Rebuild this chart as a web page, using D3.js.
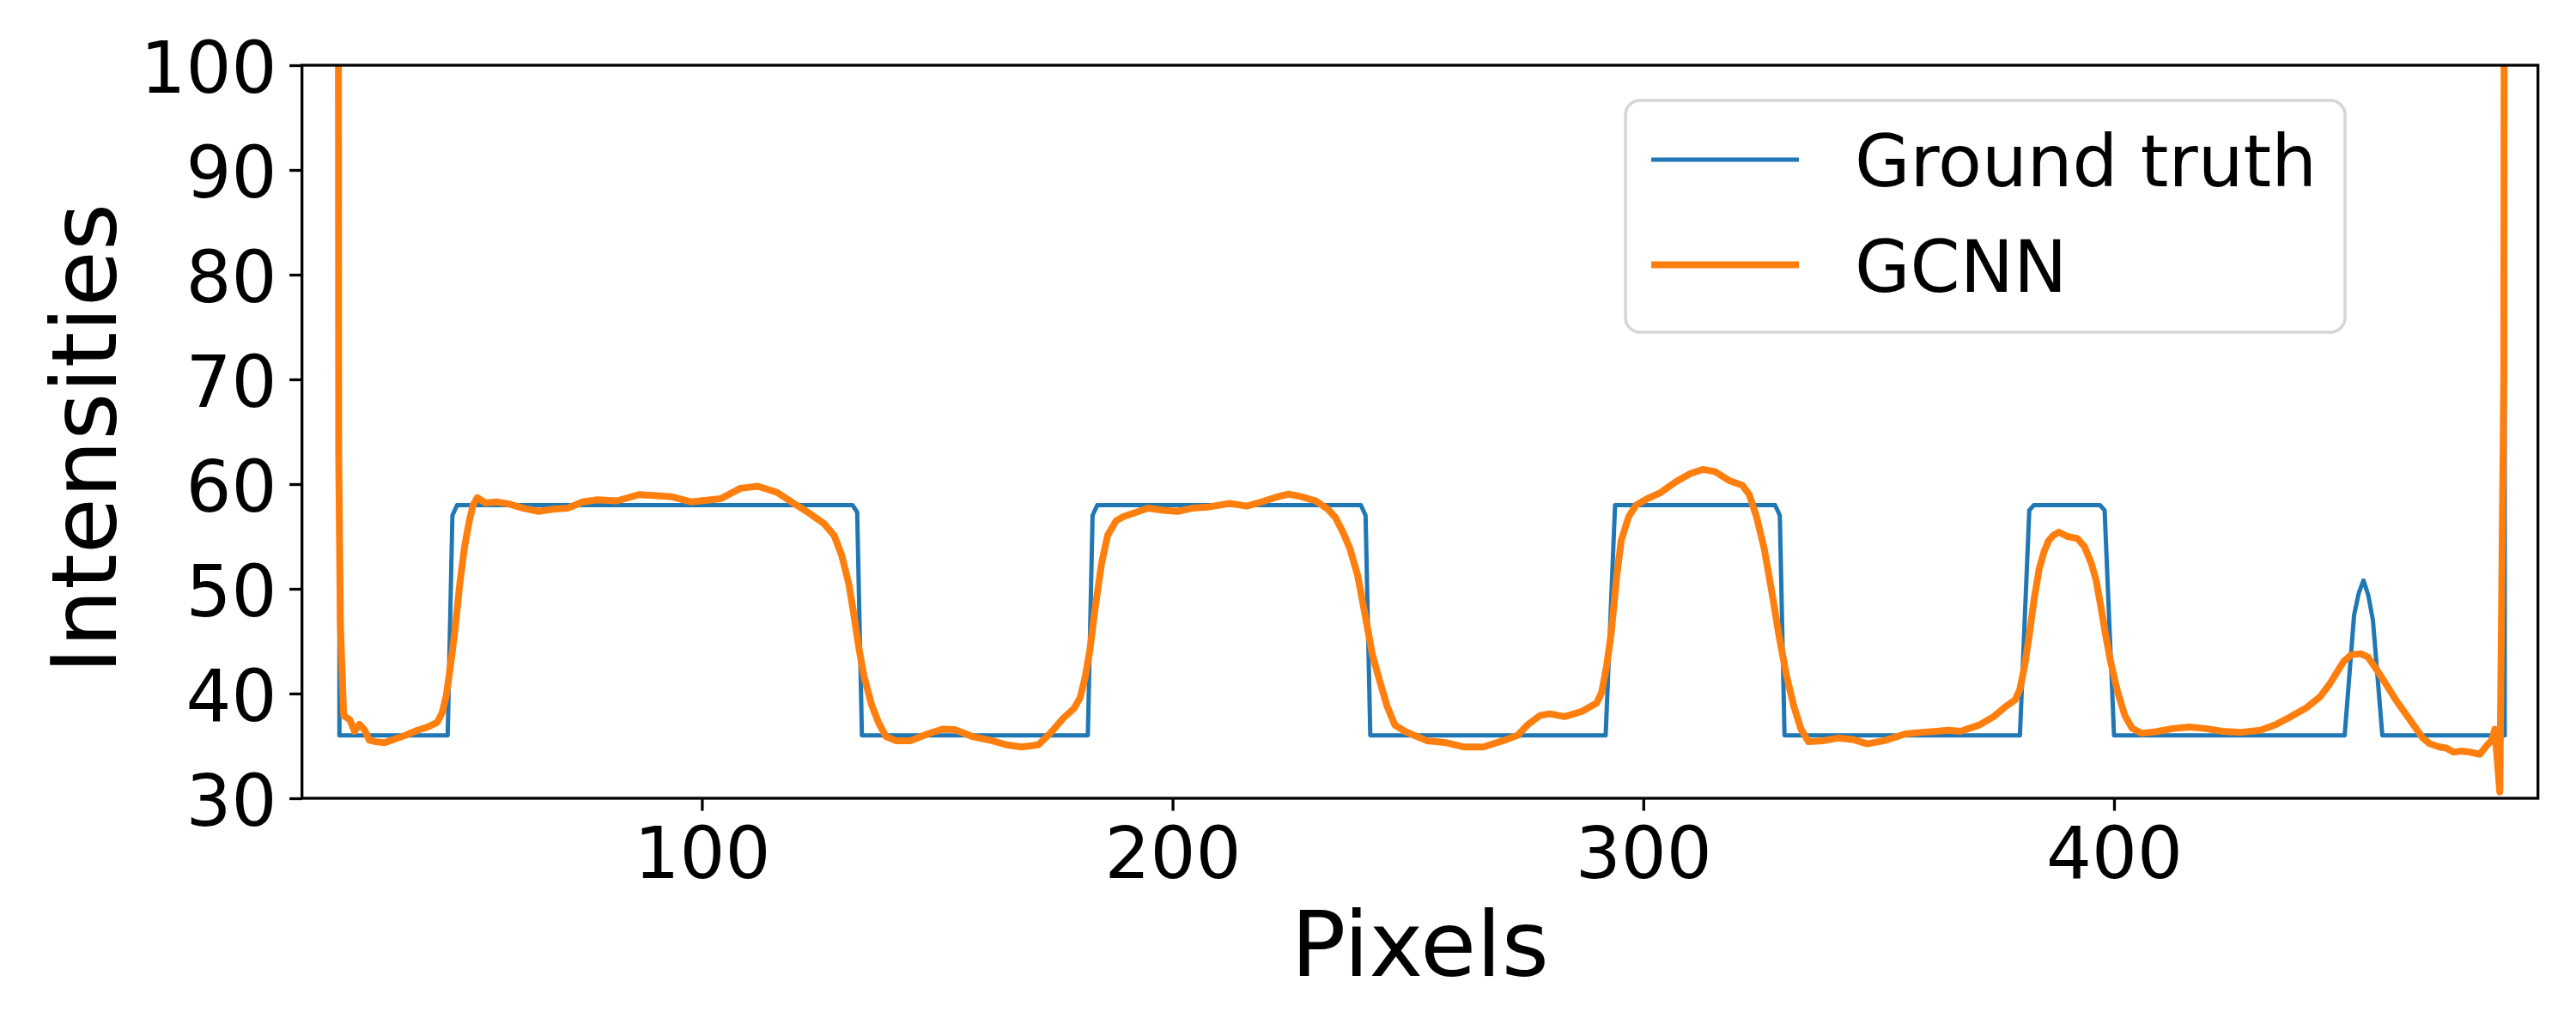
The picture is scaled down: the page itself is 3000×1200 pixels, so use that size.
<!DOCTYPE html>
<html><head><meta charset="utf-8">
<script src="https://cdn.jsdelivr.net/npm/d3@7"></script>
<style>body{margin:0;background:#fff} text{font-family:"DejaVu Sans",sans-serif}</style>
</head><body><svg id="c" width="3000" height="1200"></svg>
<script>
const xLimits = [15.05, 490.06];
const yLimits = [30, 100];
const xTicks = [100, 200, 300, 400];
const yTicks = [30, 40, 50, 60, 70, 80, 90, 100];
const seriesNames = ["Ground truth", "GCNN"];
const seriesColors = ["#1f77b4", "#ff7f0e"];
const xLabel = "Pixels", yLabel = "Intensities";

const gtX = [23, 23, 46, 47, 48, 132, 133, 134, 182, 183, 184, 240, 241, 242, 292, 294, 328, 329, 330, 380, 382, 383, 397, 398, 400, 449, 451, 452, 453, 454, 455, 457, 483, 483];
const gtY = [160, 36, 36, 57, 58, 58, 57.3, 36, 36, 57, 58, 58, 57, 36, 36, 58, 58, 57, 36, 36, 57.5, 58, 58, 57.5, 36, 36, 47.5, 49.6, 50.8, 49.4, 47.0, 36, 36, 160];

const gcnnX = [22.7,22.85,23.2,23.9,25.2,26.2,27.25,28.3,29.35,30.7,32.6,34.4,37.0,39.6,41.7,43.8,44.85,45.7,46.4,47.5,48.5,49.6,50.6,51.4,52.3,54.0,56.4,59.0,62.1,65.3,68.4,71.5,74.7,77.8,82.0,86.7,93.5,97.7,104.0,108.2,111.9,116.0,119.7,122.9,126.0,128.1,129.7,131.2,132.3,133.3,134.4,136.0,137.5,139.1,141.2,144.3,148.0,151.1,153.7,157.4,161.6,164.7,167.9,171.5,174.2,176.8,179.1,180.35,181.4,182.45,183.5,184.9,186.2,188.0,189.6,192.2,194.8,198.0,201.1,204.2,207.4,212.1,215.75,218.9,222.0,224.65,227.3,230.4,233.0,234.6,236.2,237.7,239.3,240.9,242.45,244.0,245.6,247.2,249.3,251.35,254.0,258.2,261.8,266.0,270.2,273.3,275.4,278.05,280.1,283.3,287.0,290.1,291.15,292.2,293.2,294.3,295.3,296.9,298.5,300.6,303.7,306.85,310.0,312.6,315.2,318.4,321.0,322.5,324.1,325.7,327.3,328.8,330.4,332.0,333.5,335.1,338.3,341.4,344.6,347.6,351.2,355.7,359.3,362.3,364.8,367.4,371.4,374.45,376.95,379.0,380.0,381.0,382.0,383.05,384.1,385.1,386.1,387.1,388.3,390.1,392.2,393.7,395.2,396.2,397.2,398.2,399.25,400.8,402.3,403.8,405.8,408.9,412.4,415.95,419.5,423.0,427.1,431.1,434.2,437.2,440.75,443.8,445.8,447.3,448.85,450.4,452.4,453.9,455.4,457.5,460.0,463.0,465.6,467.1,469.1,470.6,472.1,473.65,475.7,477.7,479.2,480.2,480.9,481.95,482.8,483.0];
const gcnnY = [160,62.8,46.7,37.9,37.5,36.4,37.05,36.56,35.55,35.4,35.3,35.6,36.0,36.5,36.8,37.25,38.2,39.8,42.0,45.85,50.2,54.05,56.5,58.0,58.7,58.2,58.3,58.1,57.7,57.4,57.6,57.7,58.3,58.5,58.4,59.0,58.8,58.3,58.6,59.6,59.8,59.2,58.1,57.2,56.2,55.1,53.2,50.5,47.5,44.5,41.75,39.0,37.25,35.9,35.5,35.5,36.15,36.6,36.56,35.9,35.5,35.1,34.9,35.1,36.3,37.65,38.6,39.6,41.5,44.2,48.0,52.4,55.1,56.5,56.9,57.3,57.7,57.5,57.4,57.7,57.8,58.15,57.9,58.3,58.75,59.05,58.8,58.4,57.6,56.8,55.4,53.8,51.3,47.5,43.7,41.2,38.75,37.0,36.4,36.0,35.5,35.3,34.9,34.9,35.5,36.0,37.0,37.9,38.06,37.8,38.3,39.1,40.1,42.6,45.85,51.0,54.6,56.9,58.0,58.55,59.2,60.2,61.0,61.4,61.2,60.3,59.9,59.0,56.8,53.8,49.7,45.6,41.75,38.75,36.6,35.4,35.5,35.75,35.6,35.2,35.5,36.15,36.3,36.4,36.5,36.4,37.0,37.8,38.75,39.4,40.4,42.6,45.6,49.1,51.9,53.5,54.6,55.1,55.4,55.0,54.8,54.05,52.4,50.8,48.3,45.6,43.1,40.1,37.9,36.7,36.2,36.35,36.65,36.8,36.65,36.4,36.3,36.5,37.0,37.7,38.6,39.7,40.9,42.0,43.1,43.7,43.8,43.5,42.55,41.1,39.3,37.4,35.75,35.2,34.9,34.8,34.4,34.5,34.4,34.2,35.05,35.5,36.6,30.6,70,160];

const L = 351.7, R = 2955.7, T = 76, B = 930;
const svg = d3.select("#c");
const x = d3.scaleLinear().domain(xLimits).range([L, R]);
const y = d3.scaleLinear().domain(yLimits).range([B, T]);

svg.append("defs").append("clipPath").attr("id", "clip")
  .append("rect").attr("x", L).attr("y", T).attr("width", R - L).attr("height", B - T);

const line = d3.line().x(d => x(d[0])).y(d => y(d[1]));
const gt = gtX.map((v, i) => [v, gtY[i]]);
const gc = gcnnX.map((v, i) => [v, gcnnY[i]]);
const plot = svg.append("g").attr("clip-path", "url(#clip)");
plot.append("path").datum(gt).attr("d", line).attr("fill", "none")
  .attr("stroke", seriesColors[0]).attr("stroke-width", 5).attr("stroke-linejoin", "round");
plot.append("path").datum(gc).attr("d", line).attr("fill", "none")
  .attr("stroke", seriesColors[1]).attr("stroke-width", 8).attr("stroke-linejoin", "round").attr("stroke-linecap", "round");

const fs = 83.3;
const xa = svg.append("g").attr("transform", `translate(0,${B})`)
  .call(d3.axisBottom(x).tickValues(xTicks).tickSize(14.6).tickSizeOuter(0).tickFormat(d3.format("d")));
xa.select(".domain").remove();
xa.selectAll("line").attr("stroke", "#000").attr("stroke-width", 3.3);
xa.selectAll("text").attr("y", 93).attr("dy", null).attr("font-size", fs).attr("fill", "#000")
  .attr("font-family", "DejaVu Sans");

const ya = svg.append("g").attr("transform", `translate(${L},0)`)
  .call(d3.axisLeft(y).tickValues(yTicks).tickSize(14.6).tickPadding(14.6).tickSizeOuter(0).tickFormat(d3.format("d")));
ya.select(".domain").remove();
ya.selectAll("line").attr("stroke", "#000").attr("stroke-width", 3.3);
ya.selectAll("text").attr("dy", null).attr("y", 31).attr("font-size", fs).attr("fill", "#000")
  .attr("font-family", "DejaVu Sans");

svg.append("rect").attr("x", L).attr("y", T).attr("width", R - L).attr("height", B - T)
  .attr("fill", "none").attr("stroke", "#000").attr("stroke-width", 3.3);

svg.append("text").attr("x", (L + R) / 2).attr("y", 1137).attr("text-anchor", "middle")
  .attr("font-size", 106).attr("fill", "#000").text(xLabel);
svg.append("text").attr("transform", `translate(135,511) rotate(-90)`).attr("text-anchor", "middle")
  .attr("font-size", 106).attr("fill", "#000").text(yLabel);

// legend
const lg = svg.append("g");
lg.append("rect").attr("x", 1893).attr("y", 117).attr("width", 2731 - 1893).attr("height", 387 - 117)
  .attr("rx", 17).attr("fill", "#fff").attr("fill-opacity", 0.8).attr("stroke", "#d6d6d6").attr("stroke-width", 3.5);
const rows = [186, 308.5];
const widths = [5, 8];
seriesNames.forEach((n, i) => {
  lg.append("line").attr("x1", 1923).attr("x2", 2095).attr("y1", rows[i]).attr("y2", rows[i])
    .attr("stroke", seriesColors[i]).attr("stroke-width", widths[i]);
  lg.append("text").attr("x", 2160).attr("y", rows[i] + 31).attr("font-size", fs).attr("fill", "#000").text(n);
});
</script></body></html>
